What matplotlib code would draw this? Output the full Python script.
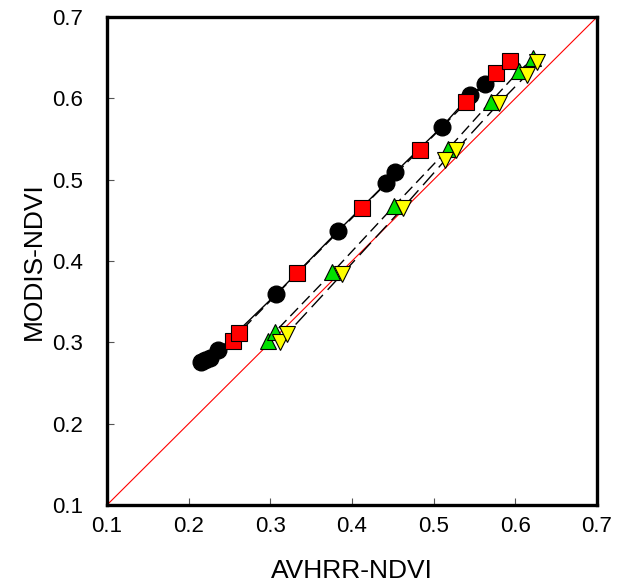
import matplotlib
matplotlib.use("Agg")
import matplotlib.pyplot as plt

plt.rcParams['font.family'] = ['Liberation Sans', 'DejaVu Sans']

# black circles
circ_x = [0.215, 0.220, 0.226, 0.236, 0.307, 0.383, 0.442, 0.453, 0.510, 0.545, 0.563]
circ_y = [0.276, 0.278, 0.281, 0.290, 0.359, 0.437, 0.496, 0.509, 0.565, 0.604, 0.618]

# red squares
sq_x = [0.254, 0.262, 0.333, 0.412, 0.483, 0.540, 0.576, 0.593]
sq_y = [0.302, 0.312, 0.385, 0.465, 0.537, 0.595, 0.631, 0.646]

# green up triangles
up_x = [0.297, 0.306, 0.376, 0.451, 0.518, 0.570, 0.604, 0.622]
up_y = [0.302, 0.313, 0.386, 0.467, 0.538, 0.596, 0.633, 0.649]

# yellow down triangles
dn_x = [0.312, 0.320, 0.388, 0.462, 0.514, 0.527, 0.580, 0.614, 0.626]
dn_y = [0.300, 0.310, 0.384, 0.465, 0.524, 0.536, 0.594, 0.629, 0.645]

fig = plt.figure(figsize=(6.21, 5.84), dpi=100)
ax = fig.add_axes([0.1723, 0.1353, 0.7891, 0.8356])

ax.plot([0.1, 0.7], [0.1, 0.7], color='red', lw=0.8, zorder=1)

ax.plot(circ_x, circ_y, '-', color='black', lw=1.0, zorder=2)
ax.plot(sq_x, sq_y, '--', color='black', lw=1.0, dashes=(8, 4), zorder=2)
ax.plot(up_x, up_y, '--', color='black', lw=1.0, dashes=(8, 4), zorder=2)
ax.plot(dn_x, dn_y, '--', color='black', lw=1.0, dashes=(12, 5), zorder=2)

ax.plot(circ_x, circ_y, 'o', ms=12, mfc='black', mec='black', ls='none', zorder=3)
ax.plot(sq_x, sq_y, 's', ms=11, mfc='red', mec='black', mew=0.8, ls='none', zorder=4)
ax.plot(up_x, up_y, '^', ms=11.5, mfc='#00e000', mec='black', mew=0.8, ls='none', zorder=4)
ax.plot(dn_x, dn_y, 'v', ms=11.5, mfc='yellow', mec='black', mew=0.8, ls='none', zorder=5)

ax.set_xlim(0.1, 0.7)
ax.set_ylim(0.1, 0.7)
ticks = [0.1, 0.2, 0.3, 0.4, 0.5, 0.6, 0.7]
ax.set_xticks(ticks)
ax.set_yticks(ticks)
ax.set_xticklabels(['%.1f' % t for t in ticks])
ax.set_yticklabels(['%.1f' % t for t in ticks])
ax.tick_params(direction='in', length=5, width=0.8, color='#555555', labelsize=16)
ax.tick_params(axis='x', pad=8)
ax.tick_params(axis='y', pad=17)
for s in ax.spines.values():
    s.set_linewidth(2.4)

ax.set_xlabel('AVHRR-NDVI', fontsize=19, labelpad=16)
ax.set_ylabel('MODIS-NDVI', fontsize=19, labelpad=5)

fig.savefig('out.png', dpi=100)
